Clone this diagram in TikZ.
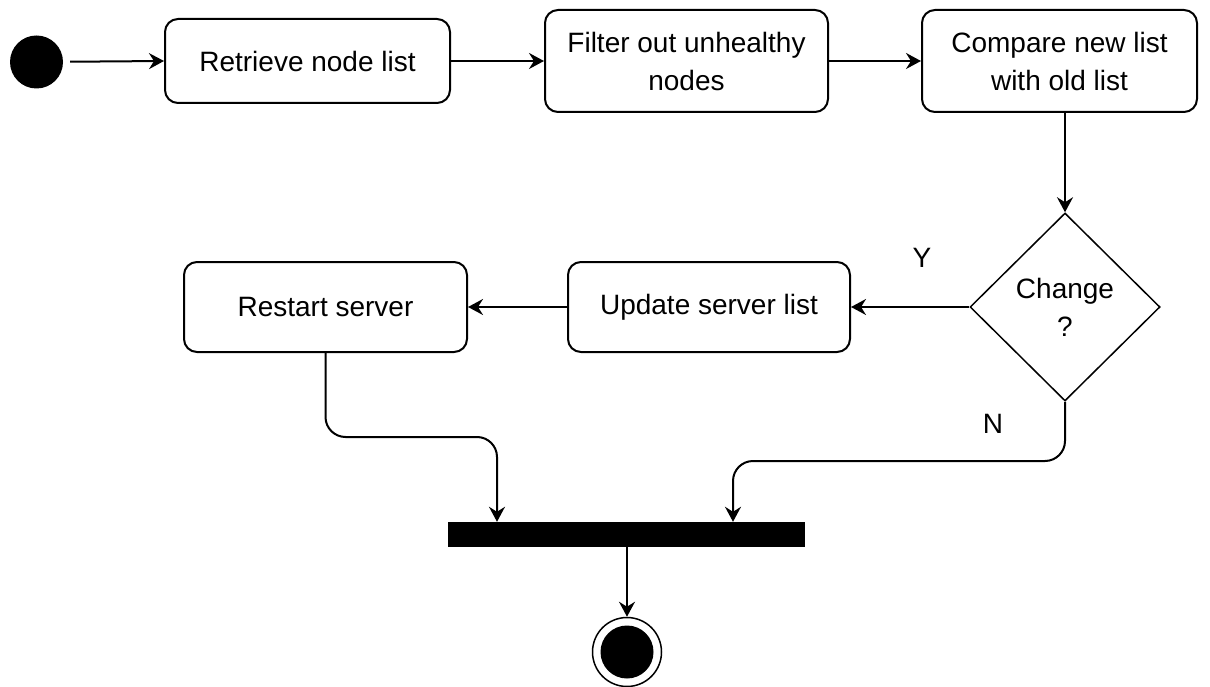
\documentclass[tikz,border=0pt]{standalone}
\usepackage{fontspec}
\setmainfont{Liberation Sans}
\usetikzlibrary{shapes.geometric,arrows.meta}
\begin{document}
\begin{tikzpicture}[x=1pt,y=-1pt,
  every node/.style={font=\fontsize{28pt}{38pt}\selectfont},
  actbox/.style={draw, line width=2pt, rounded corners=13pt, align=center, inner sep=0pt},
  arr/.style={line width=2pt, -{Stealth[length=15pt,width=16pt,inset=5pt]}},
  lbl/.style={inner sep=0pt}]
\useasboundingbox (0,0) rectangle (1210,687);
\node[circle, fill=black, minimum size=53pt, inner sep=0pt] (start) at (36.5,62) {};
\node[actbox, minimum width=285pt, minimum height=84pt] (b1) at (307.5,61) {Retrieve node list};
\node[actbox, minimum width=283pt, minimum height=102pt] (b2) at (686.5,61) {Filter out unhealthy\\nodes};
\node[actbox, minimum width=275pt, minimum height=102pt] (b3) at (1059.5,61) {Compare new list\\with old list};
\node[diamond, draw, line width=1.5pt, minimum width=190pt, minimum height=188pt, inner sep=0pt, align=center] (dec) at (1065,307) {Change\\?};
\node[actbox, minimum width=282pt, minimum height=90pt] (b4) at (709,307) {Update server list};
\node[actbox, minimum width=283pt, minimum height=90pt] (b5) at (325.5,307) {Restart server};
\node[rectangle, fill=black, minimum width=357pt, minimum height=25pt, inner sep=0pt] (bar) at (626.5,534.5) {};
\node[circle, draw, line width=1.5pt, minimum size=69pt, inner sep=0pt,
  path picture={\fill[black] (path picture bounding box.center) circle (26.5pt);}] (end) at (627,652) {};
\node[lbl] (ly) at (922,258) {Y};
\node[lbl] (ln) at (993,424) {N};
\coordinate (jl) at (497,437);
\coordinate (jr) at (733,461);
\draw[arr, shorten <=7pt] (start) -- (b1.west);
\draw[arr] (b1.east) -- (b2.west);
\draw[arr] (b2.east) -- (b3.west);
\draw[arr] (b3.south -| dec.north) -- (dec.north);
\draw[arr] (dec.west) -- (b4.east);
\draw[arr] (b4.west) -- (b5.east);
\draw[arr, rounded corners=20pt] (b5.south) |- (jl) -- (jl |- bar.north);
\draw[arr, rounded corners=20pt] (dec.south) |- (jr) -- (jr |- bar.north);
\draw[arr] (bar.south -| end.north) -- (end.north);
\end{tikzpicture}
\end{document}
